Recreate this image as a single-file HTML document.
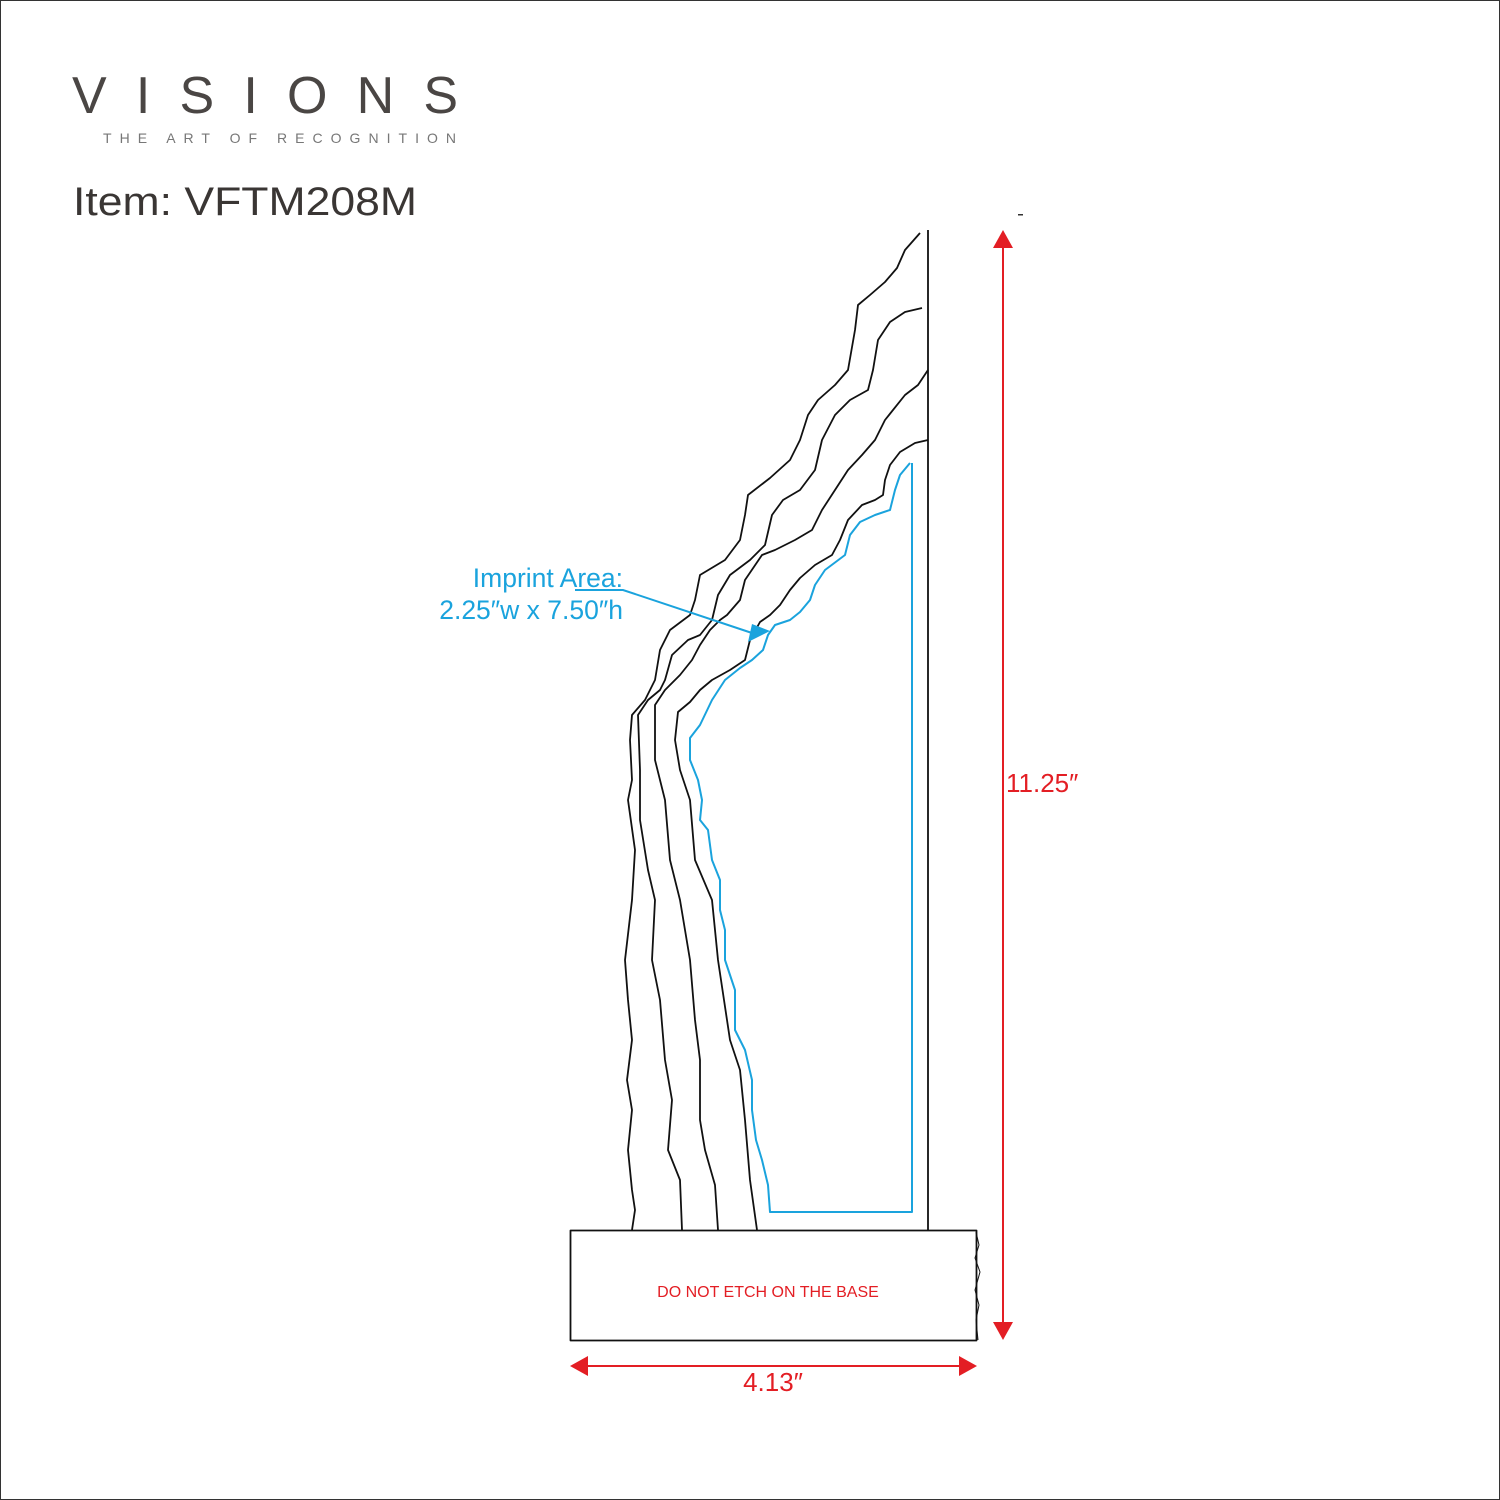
<!DOCTYPE html>
<html><head><meta charset="utf-8"><style>
html,body{margin:0;padding:0;background:#fff}
svg{display:block}
</style></head><body>
<svg width="1500" height="1500" viewBox="0 0 1500 1500" xmlns="http://www.w3.org/2000/svg">
<rect x="0.5" y="0.5" width="1499" height="1499" fill="#fff" stroke="#333" stroke-width="1"/>
<g font-family="Liberation Sans, sans-serif" fill="#3a3634">
<text x="72" y="113" font-size="52" textLength="386" lengthAdjust="spacing" fill="#4a4644">VISIONS</text>
<text x="103" y="143" font-size="14" textLength="353" lengthAdjust="spacing" fill="#777">THE ART OF RECOGNITION</text>
<text x="73" y="215" font-size="40" textLength="344" lengthAdjust="spacingAndGlyphs">Item: VFTM208M</text>
</g>
<rect x="1018" y="214" width="5" height="1.5" fill="#333"/>
<g fill="none" stroke="#111" stroke-width="1.8" stroke-linejoin="round">
<line x1="928" y1="230" x2="928" y2="1230"/>
<polyline points="920,233 905,250 897,268 885,282 870,295 858,305 855,330 848,370 835,385 818,400 808,415 800,440 790,460 770,478 748,495 745,515 740,540 725,560 700,575 695,600 690,615 670,630 660,650 655,680 645,700 632,715 630,740 632,780 628,800 635,850 632,900 625,960 628,1000 632,1040 627,1080 632,1110 628,1150 632,1190 635,1210 632,1230"/>
<polyline points="922,308 905,312 890,322 878,340 873,370 868,390 850,400 835,415 822,440 815,470 800,490 783,500 772,515 765,545 750,560 730,575 718,595 712,620 700,635 688,640 672,655 665,680 660,690 648,700 638,715 640,770 640,820 648,870 655,900 652,960 660,1000 665,1060 672,1100 668,1150 680,1180 682,1230"/>
<polyline points="928,370 918,385 905,395 885,420 875,440 862,455 848,470 835,490 822,510 812,530 795,540 775,550 762,555 745,580 740,600 727,615 720,620 710,630 700,645 692,660 680,675 665,690 655,705 655,760 665,800 670,860 680,900 690,960 695,1020 700,1060 700,1120 705,1150 715,1185 718,1230"/>
<polyline points="928,440 915,443 900,452 890,465 885,480 883,495 875,500 862,505 848,520 840,540 832,555 815,565 800,578 790,590 780,605 770,615 760,622 750,640 745,660 730,670 712,680 700,690 690,702 678,712 675,740 680,770 690,800 695,860 712,900 718,960 730,1040 740,1070 745,1120 750,1180 757,1230"/>
<rect x="570.5" y="1230.5" width="406" height="110"/>
<polyline points="976,1232 979,1245 975,1258 980,1272 975,1290 979,1305 976,1320 978,1340" stroke-width="1"/>
</g>
<polyline fill="none" stroke="#1aa3dd" stroke-width="2" stroke-linejoin="round" points="910,463 900,475 895,490 890,510 875,515 860,522 850,535 845,555 825,570 815,585 810,600 800,612 790,620 775,625 768,635 763,650 752,660 740,668 725,680 712,700 700,725 690,738 690,760 698,780 702,800 700,820 708,830 712,860 720,880 720,910 725,930 725,960 735,990 735,1030 745,1050 752,1080 752,1110 756,1140 762,1160 768,1185 770,1212 912,1212 912,463"/>
<g font-family="Liberation Sans, sans-serif" fill="#1aa3dd" font-size="26.5" text-anchor="end">
<text x="623" y="587">Imprint Area:</text>
<text x="623" y="619">2.25″w x 7.50″h</text>
</g>
<polyline fill="none" stroke="#1aa3dd" stroke-width="2" points="575,590 623,590 752,633"/>
<polygon fill="#1aa3dd" points="770,631 752,624 748,642"/>
<g stroke="#e31e24" stroke-width="2" fill="#e31e24">
<line x1="1003" y1="245" x2="1003" y2="1325"/>
<polygon points="1003,230 993,248 1013,248" stroke="none"/>
<polygon points="1003,1340 993,1322 1013,1322" stroke="none"/>
<line x1="585" y1="1366" x2="962" y2="1366"/>
<polygon points="570,1366 588,1356 588,1376" stroke="none"/>
<polygon points="977,1366 959,1356 959,1376" stroke="none"/>
</g>
<g font-family="Liberation Sans, sans-serif" fill="#e31e24">
<text x="1006" y="792" font-size="26">11.25″</text>
<text x="773" y="1391" font-size="26" text-anchor="middle">4.13″</text>
<text x="768" y="1297" font-size="16" text-anchor="middle">DO NOT ETCH ON THE BASE</text>
</g>
</svg>
</body></html>
